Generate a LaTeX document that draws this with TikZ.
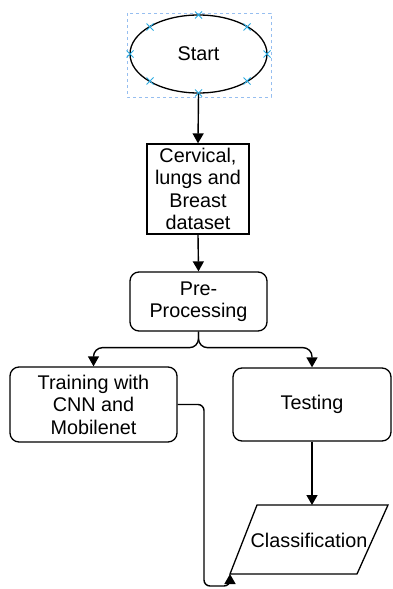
\documentclass[tikz,border=0pt]{standalone}
\usepackage{fontspec}
\setmainfont{Liberation Sans}
\usetikzlibrary{arrows.meta,shapes.geometric}
\definecolor{selblue}{RGB}{150,190,240}
\definecolor{handleblue}{RGB}{41,170,225}
\begin{document}
\begin{tikzpicture}[x=1pt,y=-1pt,
  lbl/.style={font=\fontsize{19.8}{22.5}\selectfont, align=center, text=black},
  box/.style={draw, line width=1.3pt, lbl},
  rbox/.style={box, rounded corners=9pt},
  arr/.style={line width=1.4pt, -{Triangle[length=10pt,width=11pt]}},
  handle/.style={handleblue, line width=1pt}
]
\useasboundingbox (0,0) rectangle (393,589);
% selection frame
\draw[selblue, dashed, line width=0.7pt] (127,13) rectangle (271,97);
\node[draw, ellipse, line width=1.3pt, minimum width=137pt, minimum height=78pt, lbl] (start) at (198.5,54) {Start};
\foreach \x/\y in {130/54, 267/54, 198.5/15, 198.5/93, 150/27, 247/27, 150/81, 247/81}{
  \draw[handle] (\x-3.5,\y-3.5) -- (\x+3.5,\y+3.5) (\x-3.5,\y+3.5) -- (\x+3.5,\y-3.5);
}
\node[box, minimum width=102pt, minimum height=90pt] (data) at (198,189) {Cervical,\\lungs and\\Breast\\dataset};
\node[rbox, minimum width=137pt, minimum height=59pt] (pre) at (198.5,301.5) {Pre-\\Processing};
\node[rbox, minimum width=167pt, minimum height=75pt] (train) at (93.5,404.5) {Training with\\CNN and\\Mobilenet};
\node[rbox, minimum width=158pt, minimum height=73pt] (test) at (312,404.5) {Testing};
% classification parallelogram
\coordinate (p1) at (257,505);
\coordinate (p2) at (388,505);
\coordinate (p3) at (357,574);
\coordinate (p4) at (230,574);
\draw[line width=1.3pt] (p1) -- (p2) -- (p3) -- (p4) -- cycle;
\node[lbl] (cls) at (309,540) {Classification};
% connectors
\draw[arr] (start.south) -- (data.north);
\draw[arr] (data.south) -- (pre.north);
\draw[arr, rounded corners=9pt] (pre.south) -- ++(0,16) -| (train.north);
\draw[arr, rounded corners=9pt] (pre.south) -- ++(0,16) -| (test.north);
\draw[arr] (test.south) -- (test.south |- p1);
\draw[arr, rounded corners=6pt] (train.east) -- (204,404.5) -- (204,586) -- (230,586) [sharp corners] -- (p4);
\end{tikzpicture}
\end{document}
